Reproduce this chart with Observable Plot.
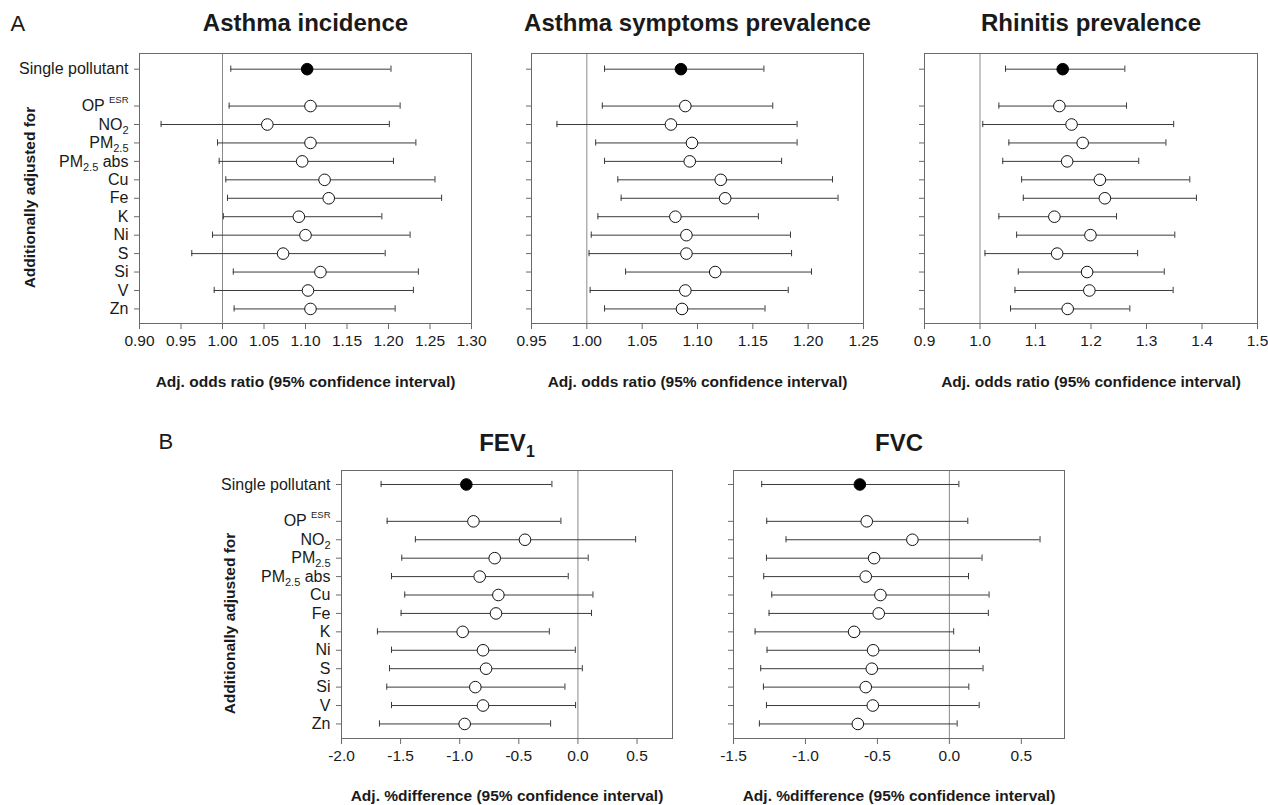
<!DOCTYPE html>
<html>
<head>
<meta charset="utf-8">
<script src="https://cdn.jsdelivr.net/npm/d3@7"></script>
<script src="https://cdn.jsdelivr.net/npm/@observablehq/plot@0.6"></script>
<style>
  html, body { margin: 0; padding: 0; background: #fff; }
  #chart { position: relative; width: 1268px; height: 805px; overflow: hidden; background: #fff; }
  #chart svg { position: absolute; overflow: visible; }
  #chart g[aria-label="x-axis tick label"] { font-size: 15.5px; }
  #chart g[aria-label="y-axis tick label"] { font-size: 16px; }
</style>
</head>
<body>
<div id="chart"></div>
<script>
// ---------- data ----------
const rowLabels = ["Single pollutant", "OP ESR", "NO2", "PM2.5", "PM2.5 abs", "Cu", "Fe", "K", "Ni", "S", "Si", "V", "Zn"];
const rowLabelBase = ["Single pollutant", "OP ", "NO", "PM", "PM", "Cu", "Fe", "K", "Ni", "S", "Si", "V", "Zn"];
const rowLabelSub  = ["", "", "2", "2.5", "2.5", "", "", "", "", "", "", "", ""];
const rowLabelSup  = ["", "ESR", "", "", "", "", "", "", "", "", "", "", ""];
const rowLabelTail = ["", "", "", "", " abs", "", "", "", "", "", "", "", ""];
const rowPos = [0, 2, 3, 4, 5, 6, 7, 8, 9, 10, 11, 12, 13];

const asthmaIncEst = [1.102, 1.106, 1.054, 1.106, 1.096, 1.123, 1.128, 1.092, 1.100, 1.073, 1.118, 1.103, 1.106];
const asthmaIncLo  = [1.010, 1.008, 0.926, 0.994, 0.996, 1.004, 1.006, 1.001, 0.988, 0.963, 1.013, 0.990, 1.014];
const asthmaIncHi  = [1.203, 1.214, 1.201, 1.233, 1.206, 1.256, 1.264, 1.192, 1.226, 1.196, 1.236, 1.230, 1.208];

const symptEst = [1.085, 1.089, 1.076, 1.095, 1.093, 1.121, 1.125, 1.080, 1.090, 1.090, 1.116, 1.089, 1.086];
const symptLo  = [1.016, 1.014, 0.973, 1.008, 1.016, 1.028, 1.031, 1.010, 1.004, 1.002, 1.035, 1.003, 1.016];
const symptHi  = [1.160, 1.168, 1.190, 1.190, 1.176, 1.222, 1.227, 1.155, 1.184, 1.185, 1.203, 1.182, 1.161];

const rhinEst = [1.149, 1.143, 1.165, 1.185, 1.157, 1.216, 1.225, 1.134, 1.199, 1.139, 1.193, 1.197, 1.158];
const rhinLo  = [1.046, 1.034, 1.005, 1.052, 1.041, 1.075, 1.078, 1.034, 1.066, 1.009, 1.069, 1.063, 1.055];
const rhinHi  = [1.261, 1.264, 1.349, 1.335, 1.286, 1.378, 1.390, 1.246, 1.351, 1.284, 1.332, 1.348, 1.270];

const fevEst = [-0.944, -0.884, -0.448, -0.704, -0.831, -0.673, -0.693, -0.975, -0.803, -0.777, -0.868, -0.803, -0.958];
const fevLo  = [-1.665, -1.614, -1.375, -1.490, -1.577, -1.465, -1.496, -1.696, -1.577, -1.594, -1.617, -1.577, -1.679];
const fevHi  = [-0.220, -0.144, 0.488, 0.087, -0.082, 0.127, 0.115, -0.242, -0.022, 0.037, -0.110, -0.020, -0.231];

const fvcEst = [-0.622, -0.574, -0.257, -0.523, -0.581, -0.479, -0.491, -0.662, -0.530, -0.539, -0.581, -0.532, -0.636];
const fvcLo  = [-1.304, -1.269, -1.135, -1.271, -1.290, -1.234, -1.253, -1.350, -1.267, -1.311, -1.292, -1.271, -1.320];
const fvcHi  = [0.066, 0.128, 0.630, 0.227, 0.133, 0.276, 0.271, 0.030, 0.209, 0.234, 0.135, 0.207, 0.054];

const ticksAsthmaInc = [0.90, 0.95, 1.00, 1.05, 1.10, 1.15, 1.20, 1.25, 1.30];
const ticksSympt = [0.95, 1.00, 1.05, 1.10, 1.15, 1.20, 1.25];
const ticksRhin = [0.9, 1.0, 1.1, 1.2, 1.3, 1.4, 1.5];
const ticksFev = [-2.0, -1.5, -1.0, -0.5, 0.0, 0.5];
const ticksFvc = [-1.5, -1.0, -0.5, 0.0, 0.5];

const titles = ["Asthma incidence", "Asthma symptoms prevalence", "Rhinitis prevalence", "FEV1", "FVC"];
const xLabelOR = "Adj. odds ratio (95% confidence interval)";
const xLabelPct = "Adj. %difference (95% confidence interval)";
const yTitle = "Additionally adjusted for";
const sectionLabels = ["A", "B"];

// ---------- drawing ----------
const FONT = "'Liberation Sans', Arial, Helvetica, sans-serif";
const SVGNS = "http://www.w3.org/2000/svg";
const chart = document.getElementById("chart");

function panel(o) {
  const data = rowPos.map((p, i) => ({pos: p, est: o.est[i], lo: o.lo[i], hi: o.hi[i], i, label: rowLabels[i]}));
  const labelByPos = new Map(data.map(d => [d.pos, d.label]));
  const cap = 0.17;
  const marks = [
    Plot.ruleX([o.ref], {stroke: "#8a8a8a", strokeWidth: 1}),
    Plot.ruleY(data, {y: "pos", x1: "lo", x2: "hi", stroke: "#3a3a3a", strokeWidth: 1}),
    Plot.ruleX(data, {x: "lo", y1: d => d.pos - cap, y2: d => d.pos + cap, stroke: "#3a3a3a", strokeWidth: 1}),
    Plot.ruleX(data, {x: "hi", y1: d => d.pos - cap, y2: d => d.pos + cap, stroke: "#3a3a3a", strokeWidth: 1}),
    Plot.dot(data.filter(d => d.i !== 0), {x: "est", y: "pos", r: 5.8, fill: "white", stroke: "#111", strokeWidth: 1}),
    Plot.dot(data.filter(d => d.i === 0), {x: "est", y: "pos", r: 5.8, fill: "black", stroke: "black", strokeWidth: 1}),
    Plot.frame({stroke: "#6a6a6a", strokeWidth: 1}),
    Plot.axisX({ticks: o.ticks, tickFormat: o.fmt, tickSize: 6, tickPadding: 5, stroke: "#6a6a6a", label: null}),
    Plot.axisY({ticks: rowPos, tickFormat: o.showLabels ? (p => labelByPos.get(p)) : (() => ""), tickSize: 5, tickPadding: 6, stroke: "#6a6a6a", label: null}),
    Plot.text([o.title], {text: d => d, frameAnchor: "top", dy: o.titleDy, fontSize: 24, fontWeight: "bold", lineAnchor: "middle"}),
    Plot.text([o.xlabel], {text: d => d, frameAnchor: "bottom", dy: o.xlabelDy, fontSize: 15.5, fontWeight: "bold", lineAnchor: "middle"})
  ];
  if (o.showLabels) {
    marks.push(Plot.text([yTitle], {text: d => d, frameAnchor: "left", dx: o.yTitleDx, dy: o.yTitleDy, rotate: -90, textAnchor: "middle", fontSize: 15.5, fontWeight: "bold", lineAnchor: "middle"}));
  }
  if (o.section) {
    marks.push(Plot.text([o.section], {text: d => d, frameAnchor: "top-left", dx: o.sectionDx, dy: o.sectionDy, fontSize: 22, textAnchor: "start", lineAnchor: "middle"}));
  }
  const svg = Plot.plot({
    width: o.width, height: o.height,
    marginLeft: o.mL, marginRight: o.mR, marginTop: o.mT, marginBottom: o.mB,
    style: {fontFamily: FONT, fontSize: "15px", color: "#1a1a1a", background: "transparent", overflow: "visible"},
    x: {domain: o.domain, label: null},
    y: {domain: o.yDomain, reverse: true, label: null},
    marks
  });
  svg.style.left = o.left + "px";
  svg.style.top = o.top + "px";
  chart.appendChild(svg);

  // remove empty y tick labels (panels without row names)
  svg.querySelectorAll('g[aria-label="y-axis tick label"] text').forEach(t => {
    if (t.textContent === "") t.remove();
  });

  // rich tick labels (sub/superscripts)
  if (o.showLabels) {
    svg.querySelectorAll('g[aria-label="y-axis tick label"] text').forEach(t => {
      const idx = rowLabels.indexOf(t.textContent);
      if (idx < 0) return;
      t.textContent = "";
      const add = (txt, attrs) => {
        const ts = document.createElementNS(SVGNS, "tspan");
        ts.textContent = txt;
        for (const k in attrs) ts.setAttribute(k, attrs[k]);
        t.appendChild(ts);
      };
      add(rowLabelBase[idx], {});
      if (rowLabelSub[idx]) add(rowLabelSub[idx], {"font-size": "11px", dy: "4"});
      if (rowLabelSup[idx]) add(rowLabelSup[idx], {"font-size": "9.5px", dy: "-8"});
      if (rowLabelTail[idx]) add(rowLabelTail[idx], {dy: rowLabelSub[idx] ? "-4" : "0"});
    });
  }
  // FEV1 subscript
  svg.querySelectorAll("text").forEach(t => {
    if (t.textContent === "FEV1" && t.children.length === 0) {
      t.textContent = "";
      const a = document.createElementNS(SVGNS, "tspan");
      a.textContent = "FEV";
      const b = document.createElementNS(SVGNS, "tspan");
      b.textContent = "1"; b.setAttribute("font-size", "16px"); b.setAttribute("dy", "6");
      t.appendChild(a); t.appendChild(b);
    }
  });
}

const f2 = d => d.toFixed(2);
const f1 = d => d.toFixed(1);

panel({est: asthmaIncEst, lo: asthmaIncLo, hi: asthmaIncHi, ref: 1, domain: [0.9, 1.3], ticks: ticksAsthmaInc, fmt: f2,
  left: 0, top: 0, width: 480, height: 400, mL: 139, mR: 9, mT: 53, mB: 77, yDomain: [-0.85, 13.79],
  showLabels: true, title: titles[0], titleDy: -30, xlabel: xLabelOR, xlabelDy: 59, yTitleDx: -109, yTitleDy: 9,
  section: sectionLabels[0], sectionDx: -129, sectionDy: -30});

panel({est: symptEst, lo: symptLo, hi: symptHi, ref: 1, domain: [0.95, 1.25], ticks: ticksSympt, fmt: f2,
  left: 480, top: 0, width: 395, height: 400, mL: 51, mR: 12, mT: 53, mB: 77, yDomain: [-0.85, 13.79],
  showLabels: false, title: titles[1], titleDy: -30, xlabel: xLabelOR, xlabelDy: 59});

panel({est: rhinEst, lo: rhinLo, hi: rhinHi, ref: 1, domain: [0.9, 1.5], ticks: ticksRhin, fmt: f1,
  left: 875, top: 0, width: 393, height: 400, mL: 49, mR: 11, mT: 53, mB: 77, yDomain: [-0.85, 13.79],
  showLabels: false, title: titles[2], titleDy: -30, xlabel: xLabelOR, xlabelDy: 59});

panel({est: fevEst, lo: fevLo, hi: fevHi, ref: 0, domain: [-2.0, 0.8], ticks: ticksFev, fmt: f1,
  left: 150, top: 400, width: 530, height: 405, mL: 191, mR: 8, mT: 70, mB: 67, yDomain: [-0.76, 13.79],
  showLabels: true, title: titles[3], titleDy: -27, xlabel: xLabelPct, xlabelDy: 58, yTitleDx: -111, yTitleDy: 19,
  section: sectionLabels[1], sectionDx: -183, sectionDy: -29});

panel({est: fvcEst, lo: fvcLo, hi: fvcHi, ref: 0, domain: [-1.5, 0.8], ticks: ticksFvc, fmt: f1,
  left: 680, top: 400, width: 400, height: 405, mL: 53, mR: 16, mT: 70, mB: 67, yDomain: [-0.76, 13.79],
  showLabels: false, title: titles[4], titleDy: -27, xlabel: xLabelPct, xlabelDy: 58});
</script>
</body>
</html>
